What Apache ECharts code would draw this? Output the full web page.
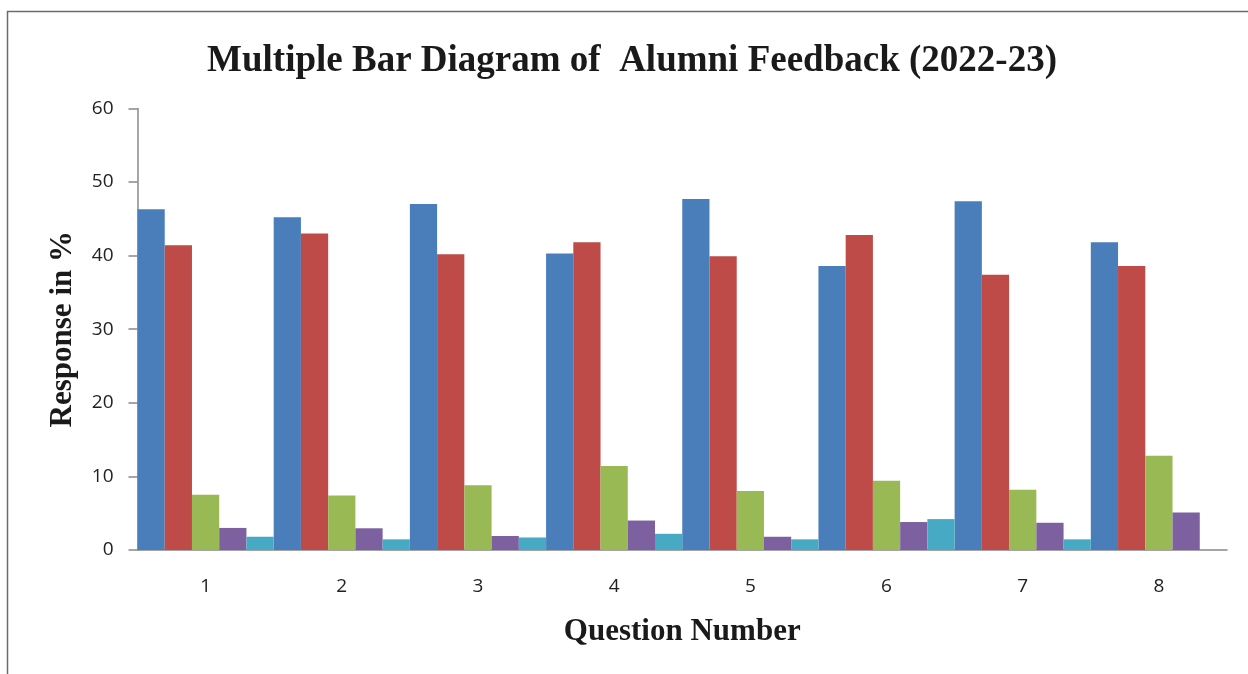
<!DOCTYPE html>
<html>
<head>
<meta charset="utf-8">
<script src="https://cdn.jsdelivr.net/npm/echarts@6/dist/echarts.min.js"></script>
<style>
html,body{margin:0;padding:0;background:#fff;}
#c{width:1248px;height:674px;}
</style>
</head>
<body>
<div id="c"></div>
<script>
const categories = ['1','2','3','4','5','6','7','8'];
const seriesA = [46.3, 45.2, 47.0, 40.3, 47.7, 38.6, 47.4, 41.8];
const seriesB = [41.4, 43.0, 40.2, 41.8, 39.9, 42.8, 37.4, 38.6];
const seriesC = [7.5, 7.4, 8.8, 11.4, 8.0, 9.4, 8.2, 12.8];
const seriesD = [3.0, 2.95, 1.9, 4.0, 1.8, 3.8, 3.7, 5.1];
const seriesE = [1.8, 1.45, 1.7, 2.2, 1.45, 4.2, 1.45, 0];
const yTicks = [0, 10, 20, 30, 40, 50, 60];

const colors = ['#4a7ebb', '#be4b48', '#98b954', '#7d60a0', '#46aac5'];
const allSeries = [seriesA, seriesB, seriesC, seriesD, seriesE];
const serif = '"Liberation Serif", "Times New Roman", serif';
const sans = '"Open Sans", "DejaVu Sans", sans-serif';

const chart = echarts.init(document.getElementById('c'), null, {renderer: 'canvas'});
chart.setOption({
  animation: false,
  backgroundColor: '#ffffff',
  title: {
    text: 'Multiple Bar Diagram of  Alumni Feedback (2022-23)',
    left: 627, top: 38, textAlign: 'center',
    textStyle: {fontFamily: serif, fontWeight: 'bold', fontSize: 37, color: '#1a1a1a'}
  },
  graphic: [{
    type: 'rect', silent: true,
    shape: {x: 7.5, y: 11.5, width: 1300, height: 700},
    style: {fill: 'none', stroke: '#6b6b6b', lineWidth: 1.5}
  }],
  grid: {left: 137.5, right: 21, top: 108.4, bottom: 124, containLabel: false},
  xAxis: {
    type: 'category', data: categories,
    name: 'Question Number', nameLocation: 'middle', nameGap: 66,
    nameTextStyle: {fontFamily: serif, fontWeight: 'bold', fontSize: 31, color: '#1a1a1a'},
    axisLine: {lineStyle: {color: '#888888', width: 1.5}},
    axisTick: {show: false},
    axisLabel: {margin: 27, fontSize: 19, color: '#222', fontFamily: sans}
  },
  yAxis: {
    type: 'value', min: 0, max: 60, interval: 10,
    name: 'Response in %', nameLocation: 'middle', nameGap: 59, nameRotate: 90,
    nameTextStyle: {fontFamily: serif, fontWeight: 'bold', fontSize: 31, color: '#1a1a1a'},
    axisLine: {show: true, lineStyle: {color: '#888888', width: 1.5}},
    axisTick: {show: true, length: 9, lineStyle: {color: '#888888', width: 1.5}},
    splitLine: {show: false},
    axisLabel: {margin: 24, fontSize: 19, color: '#222', fontFamily: sans,
      formatter: v => yTicks.includes(v) ? String(v) : ''}
  },
  series: allSeries.map((d, i) => ({
    type: 'bar', data: d, barGap: '0%', barCategoryGap: '0%',
    itemStyle: {color: colors[i]}
  }))
});
</script>
</body>
</html>
